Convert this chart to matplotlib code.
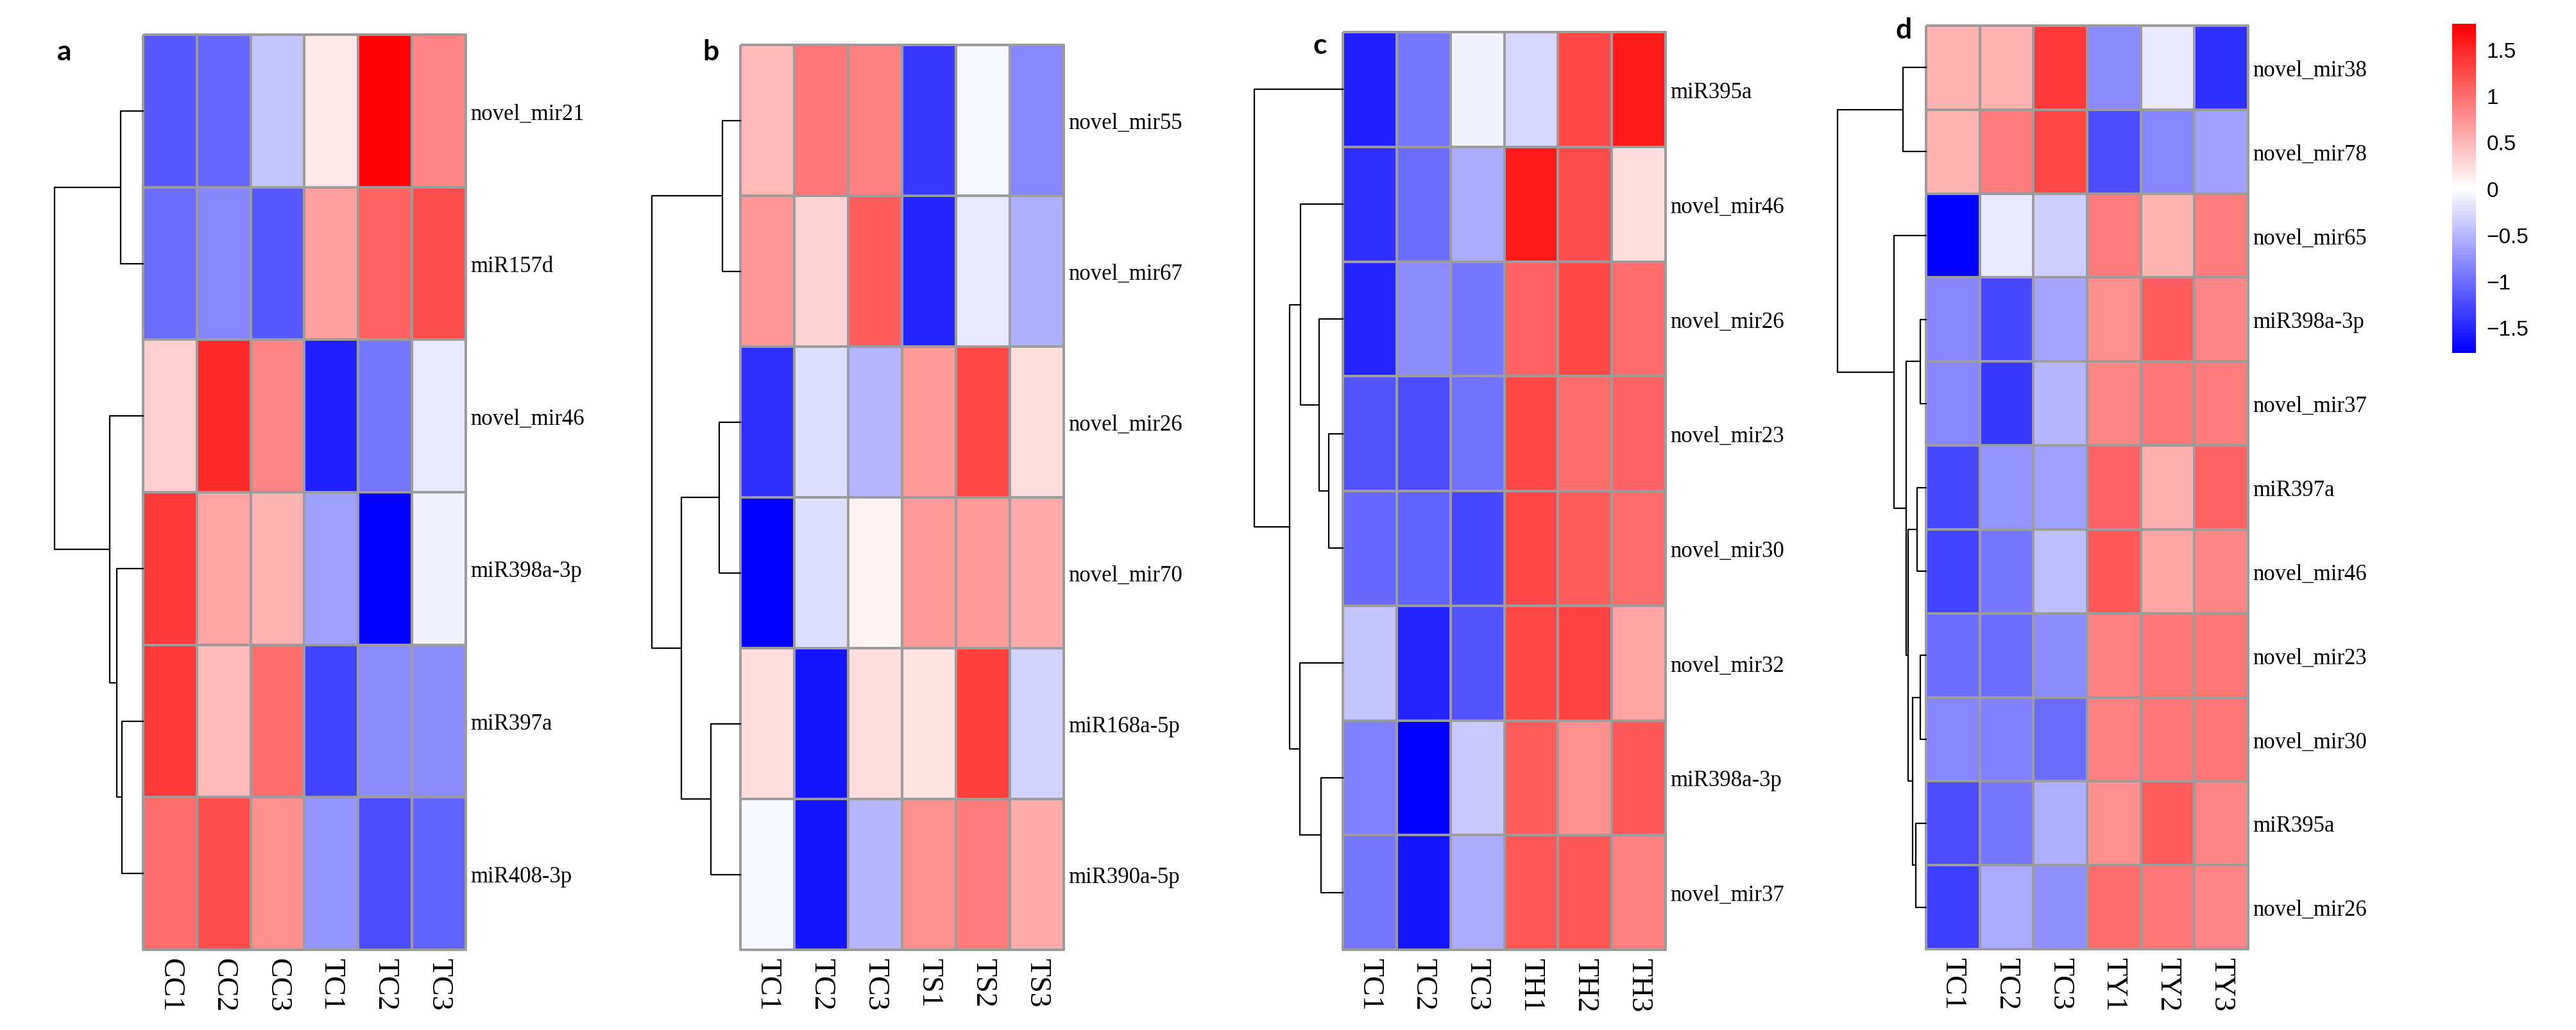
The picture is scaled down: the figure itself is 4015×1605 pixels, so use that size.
import numpy as np
import matplotlib
matplotlib.use("Agg")
import matplotlib.pyplot as plt
from matplotlib.colors import LinearSegmentedColormap
from matplotlib.cm import ScalarMappable
from matplotlib.colors import Normalize

W, H = 4016, 1606

# ---- panel a ----
a_rows = ["novel_mir21", "miR157d", "novel_mir46", "miR398a-3p", "miR397a", "miR408-3p"]
a_cols = ["CC1", "CC2", "CC3", "TC1", "TC2", "TC3"]
a_vals = [
    [-1.15, -1.04, -0.40, 0.17, 1.71, 0.82],
    [-1.00, -0.83, -1.15, 0.66, 1.07, 1.24],
    [0.35, 1.49, 0.82, -1.54, -0.95, -0.17],
    [1.37, 0.63, 0.52, -0.66, -1.78, -0.10],
    [1.37, 0.47, 1.02, -1.31, -0.81, -0.81],
    [1.00, 1.22, 0.78, -0.73, -1.23, -1.07],
]
# merges: (left, right, height); new clusters numbered n, n+1, ...
a_tree = [(4, 5, 33), (0, 1, 35), (3, 6, 41), (2, 8, 52), (7, 9, 138)]

# ---- panel b ----
b_rows = ["novel_mir55", "novel_mir67", "novel_mir26", "novel_mir70", "miR168a-5p", "miR390a-5p"]
b_cols = ["TC1", "TC2", "TC3", "TS1", "TS2", "TS3"]
b_vals = [
    [0.47, 0.96, 0.87, -1.37, -0.06, -0.83],
    [0.72, 0.29, 1.12, -1.53, -0.15, -0.55],
    [-1.44, -0.22, -0.52, 0.70, 1.28, 0.22],
    [-1.78, -0.24, 0.09, 0.70, 0.68, 0.59],
    [0.22, -1.61, 0.22, 0.19, 1.33, -0.31],
    [-0.06, -1.61, -0.52, 0.78, 0.89, 0.59],
]
b_tree = [(0, 1, 28), (2, 3, 33), (4, 5, 46), (7, 8, 91.5), (6, 9, 137)]

# ---- panel c ----
c_rows = ["miR395a", "novel_mir46", "novel_mir26", "novel_mir23", "novel_mir30",
          "novel_mir32", "miR398a-3p", "novel_mir37"]
c_cols = ["TC1", "TC2", "TC3", "TH1", "TH2", "TH3"]
c_vals = [
    [-1.54, -0.95, -0.08, -0.27, 1.26, 1.57],
    [-1.44, -1.03, -0.57, 1.57, 1.22, 0.23],
    [-1.50, -0.80, -0.94, 1.07, 1.26, 1.00],
    [-1.19, -1.22, -0.97, 1.26, 1.00, 1.07],
    [-1.04, -1.07, -1.25, 1.26, 1.11, 1.00],
    [-0.40, -1.53, -1.19, 1.26, 1.31, 0.63],
    [-0.86, -1.78, -0.38, 1.12, 0.77, 1.15],
    [-0.94, -1.61, -0.59, 1.15, 1.15, 0.86],
]
c_tree = [(3, 4, 22), (6, 7, 34), (2, 8, 37), (1, 10, 66), (5, 9, 67.5),
          (11, 12, 83), (0, 13, 138)]

# ---- panel d ----
d_rows = ["novel_mir38", "novel_mir78", "novel_mir65", "miR398a-3p", "novel_mir37",
          "miR397a", "novel_mir46", "novel_mir23", "novel_mir30", "miR395a", "novel_mir26"]
d_cols = ["TC1", "TC2", "TC3", "TY1", "TY2", "TY3"]
d_vals = [
    [0.52, 0.50, 1.37, -0.79, -0.17, -1.44],
    [0.52, 0.89, 1.26, -1.22, -0.83, -0.66],
    [-1.78, -0.15, -0.33, 0.91, 0.52, 0.89],
    [-0.85, -1.28, -0.63, 0.77, 1.11, 0.85],
    [-0.83, -1.37, -0.50, 0.85, 0.95, 0.91],
    [-1.28, -0.74, -0.66, 1.07, 0.56, 1.07],
    [-1.30, -0.94, -0.44, 1.17, 0.63, 0.85],
    [-1.00, -1.01, -0.79, 0.87, 0.96, 0.93],
    [-0.85, -0.89, -1.03, 0.87, 0.96, 0.93],
    [-1.22, -0.95, -0.55, 0.77, 1.11, 0.82],
    [-1.33, -0.59, -0.77, 1.01, 0.96, 0.82],
]
d_tree = [(3, 4, 9), (7, 8, 9), (5, 6, 14), (9, 10, 16), (12, 14, 21),
          (13, 15, 28), (11, 16, 31), (0, 1, 36), (2, 17, 50), (18, 19, 138)]

cbar_ticks = [-1.5, -1, -0.5, 0, 0.5, 1, 1.5]
cbar_labels = ["\u22121.5", "\u22121", "\u22120.5", "0", "0.5", "1", "1.5"]

VMAX = 1.78
cmap = LinearSegmentedColormap.from_list("bwr_ph", ["#0000ff", "#ffffff", "#ff0000"], N=100)

fig = plt.figure(figsize=(W / 100, H / 100), dpi=100)


def px_axes(x0, y0, x1, y1):
    # pixel box (top-left origin) -> figure axes
    return fig.add_axes([x0 / W, 1 - y1 / H, (x1 - x0) / W, (y1 - y0) / H])


def draw_tree(ax, merges, n):
    pos = {i: i + 0.5 for i in range(n)}
    ht = {i: 0.0 for i in range(n)}
    for k, (p, q, h) in enumerate(merges):
        ax.plot([ht[p], h, h, ht[q]], [pos[p], pos[p], pos[q], pos[q]],
                color="black", lw=1.6, clip_on=False)
        pos[n + k] = (pos[p] + pos[q]) / 2
        ht[n + k] = h
    ax.set_xlim(merges[-1][2], 0)
    ax.set_ylim(n, 0)
    ax.axis("off")


def draw_heat(ax, vals, rows, cols):
    v = np.array(vals)
    mesh = ax.pcolormesh(v, cmap=cmap, vmin=-VMAX, vmax=VMAX,
                         edgecolors="#9c9c9c", linewidth=1.5)
    mesh.set_clip_on(False)
    ax.set_xlim(0, v.shape[1])
    ax.set_ylim(v.shape[0], 0)
    ax.set_xticks(np.arange(len(cols)) + 0.5)
    ax.set_xticklabels(cols, rotation=270, fontsize=33, family="Liberation Serif")
    ax.set_yticks(np.arange(len(rows)) + 0.5)
    ax.set_yticklabels(rows, fontsize=25, family="Liberation Serif")
    ax.yaxis.tick_right()
    ax.tick_params(axis="x", length=0, pad=9)
    ax.tick_params(axis="y", length=0, pad=5)
    for s in ax.spines.values():
        s.set_visible(False)


panels = [
    ("a", a_vals, a_rows, a_cols, a_tree, (223, 55, 726, 1481), (100, 94)),
    ("b", b_vals, b_rows, b_cols, b_tree, (1154, 71, 1658, 1481), (1108, 94)),
    ("c", c_vals, c_rows, c_cols, c_tree, (2093, 51, 2596, 1481), (2057, 84)),
    ("d", d_vals, d_rows, d_cols, d_tree, (3002, 41, 3504, 1480), (2967, 60)),
]

for letter, vals, rows, cols, tree, box, lab in panels:
    x0, y0, x1, y1 = box
    hax = px_axes(x0, y0, x1, y1)
    draw_heat(hax, vals, rows, cols)
    tax = px_axes(x0 - 138, y0, x0, y1)
    draw_tree(tax, tree, len(rows))
    fig.text(lab[0] / W, 1 - lab[1] / H, letter, fontsize=32, fontweight="bold",
             family="Lato", ha="center", va="baseline")

# colour key
cax = px_axes(3822, 38, 3859, 551)
sm = ScalarMappable(norm=Normalize(-VMAX, VMAX), cmap=cmap)
cb = fig.colorbar(sm, cax=cax, ticks=cbar_ticks)
cb.outline.set_visible(False)
cb.ax.set_yticklabels(cbar_labels, fontsize=24, family="Liberation Sans")
cb.ax.tick_params(length=0, pad=12)

fig.savefig("out.png", dpi=100)
